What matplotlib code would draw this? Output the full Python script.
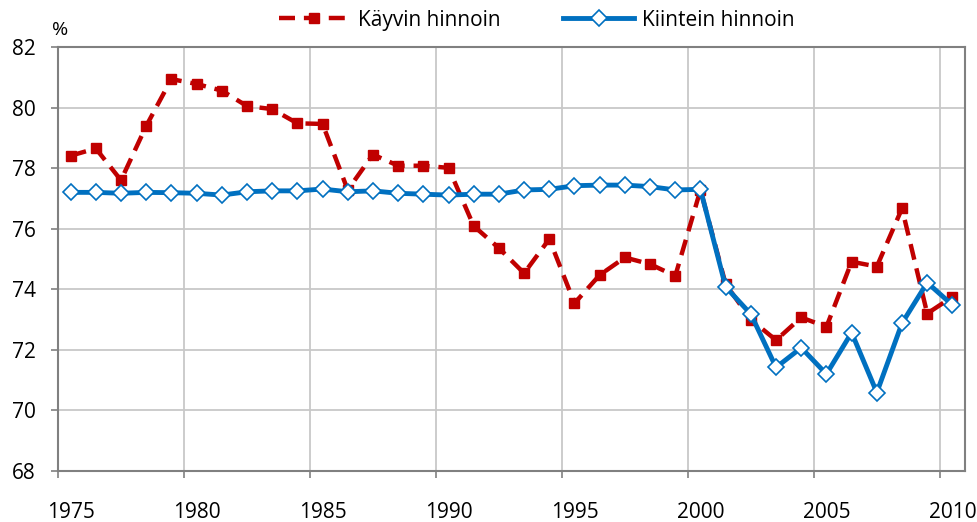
import matplotlib
matplotlib.use("Agg")
import matplotlib.pyplot as plt
import numpy as np

plt.rcParams['font.family'] = ['Open Sans', 'DejaVu Sans']

years = list(range(1975, 2011))
kayvin = [78.41, 78.65, 77.60, 79.39, 80.94, 80.78, 80.56, 80.05, 79.95, 79.48,
          79.46, 77.28, 78.45, 78.08, 78.08, 78.01, 76.09, 75.36, 74.53, 75.66,
          73.54, 74.47, 75.05, 74.83, 74.44, 77.28, 74.17, 73.00, 72.32, 73.07,
          72.76, 74.91, 74.75, 76.67, 73.20, 73.75]
kiintein = [77.20, 77.20, 77.17, 77.20, 77.19, 77.17, 77.11, 77.22, 77.25, 77.25,
            77.31, 77.22, 77.25, 77.17, 77.14, 77.11, 77.14, 77.14, 77.28, 77.30,
            77.42, 77.44, 77.44, 77.39, 77.28, 77.30, 74.08, 73.18, 71.42, 72.07,
            71.20, 72.57, 70.59, 72.88, 74.22, 73.48]
labels = ["Käyvin hinnoin", "Kiintein hinnoin"]
xtick_years = list(range(1975, 2011, 5))
yticks = list(range(68, 83, 2))

fig = plt.figure(figsize=(9.78, 5.22), dpi=100)
ax = fig.add_axes([58 / 978, 1 - 471 / 522, (965 - 58) / 978, (471 - 47) / 522])

x = np.array(years) + 0.5
red = '#C00000'
blue = '#0070C0'
ax.plot(x, kayvin, color=red, lw=3.2, ls=(0, (3.6, 2.0)), marker='s', ms=7,
        mfc=red, mec=red, label=labels[0], zorder=3)
ax.plot(x, kiintein, color=blue, lw=3.5, marker='D', ms=8.5, mfc='white',
        mec=blue, mew=1.2, label=labels[1], zorder=4)

ax.set_xlim(1975, 2011)
ax.set_ylim(68, 82)
ax.set_xticks(xtick_years)
ax.set_xticklabels([])
ax.set_xticks(np.array(xtick_years) + 0.5, minor=True)
ax.set_xticklabels([str(y) for y in xtick_years], minor=True)
ax.tick_params(axis='x', which='minor', length=0, pad=22, labelsize=15)
ax.tick_params(axis='x', which='major', length=5, width=1.2, color='#808080', direction='out')
ax.set_yticks(yticks)
ax.tick_params(axis='y', length=5, width=1.2, color='#808080', pad=11, labelsize=15)
ax.grid(True, which='major', color='#C8C8C8', lw=1.3)
ax.set_axisbelow(True)
for s in ax.spines.values():
    s.set_color('#808080')
    s.set_linewidth(1.5)

fig.text(52 / 978, 1 - 30 / 522, '%', fontsize=14, va='center', ha='left')

fig.legend(loc='center', bbox_to_anchor=(537 / 978, 1 - 20 / 522), ncol=2,
           frameon=False, fontsize=15, handlelength=3.4, columnspacing=3.0,
           handletextpad=0.4)

fig.savefig('out.png', dpi=100)
